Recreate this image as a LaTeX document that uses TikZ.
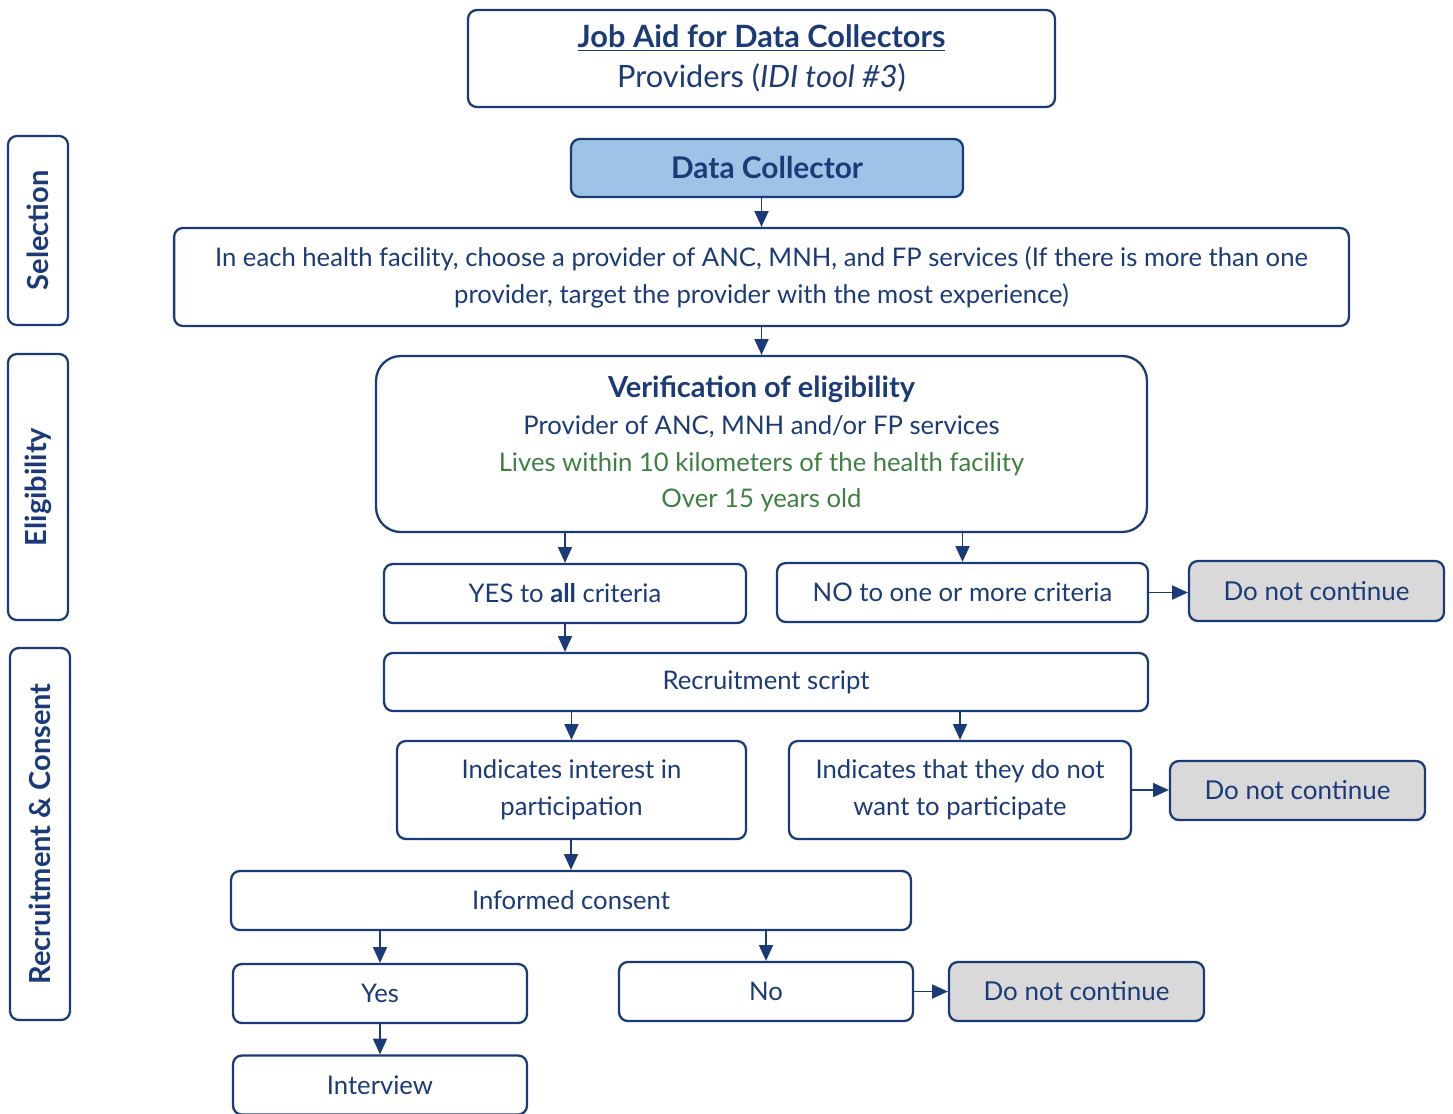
\documentclass[tikz,border=0pt]{standalone}
\usepackage{fontspec}
\setmainfont{Lato}
\usetikzlibrary{arrows.meta}
\definecolor{navy}{HTML}{1B3A78}
\definecolor{leafgreen}{HTML}{3C8042}
\definecolor{paleblue}{HTML}{9DC3E6}
\definecolor{palegray}{HTML}{D9D9D9}
\tikzset{
  box/.style={draw=navy, line width=1.3pt, rounded corners=5pt, text=navy, align=center,
    inner sep=0pt, font=\fontsize{14.6}{21}\selectfont},
  stopbox/.style={box, fill=palegray, font=\fontsize{14.8}{18}\selectfont},
  side/.style={box, rotate=90, minimum height=1.2cm, font=\fontsize{16.5}{18}\selectfont\bfseries},
  arr/.style={draw=navy, line width=0.9pt, -{Triangle[length=9pt,width=8pt]}},
}
\begin{document}
\begin{tikzpicture}[x=0.02cm, y=-0.02cm]
\useasboundingbox (0,0) rectangle (1453,1113);
% header
\node[box, minimum width=11.74cm, minimum height=1.94cm, font=\fontsize{17.5}{23}\selectfont] (title) at (761.5,58.5)
  {\textbf{\underline{Job Aid for Data Collectors}}\\ Providers (\textit{IDI tool \#3})};
\node[box, fill=paleblue, minimum width=7.84cm, minimum height=1.16cm, font=\fontsize{17}{18}\selectfont\bfseries] (dc) at (767,168) {Data Collector};
% phases
\node[side, minimum width=3.78cm] (sel) at (38,230.5) {Selection};
\node[side, minimum width=5.32cm] (elig) at (38,487) {Eligibility};
\node[side, minimum width=7.44cm] (recr) at (40,834) {Recruitment \& Consent};
% selection / eligibility
\node[box, minimum width=23.5cm, minimum height=1.96cm] (facility) at (761.5,277)
  {In each health facility, choose a provider of ANC, MNH, and FP services (If there is more than one\\ provider, target the provider with the most experience)};
\node[box, rounded corners=14pt, minimum width=15.42cm, minimum height=3.52cm] (verif) at (761.5,444)
  {{\fontsize{16.5}{21}\selectfont\bfseries Verification of eligibility}\\ Provider of ANC, MNH and/or FP services\\
   \textcolor{leafgreen}{Lives within 10 kilometers of the health facility}\\ \textcolor{leafgreen}{Over 15 years old}};
\node[box, minimum width=7.24cm, minimum height=1.18cm] (yes) at (565,593.5) {YES to \textbf{all} criteria};
\node[box, minimum width=7.42cm, minimum height=1.18cm] (no) at (962.5,592.5) {NO to one or more criteria};
\node[stopbox, minimum width=5.1cm, minimum height=1.2cm] (stop1) at (1316.5,591) {Do not continue};
% recruitment
\node[box, minimum width=15.28cm, minimum height=1.16cm] (script) at (766,682) {Recruitment script};
\node[box, minimum width=6.98cm, minimum height=1.96cm] (interest) at (571.5,790) {Indicates interest in\\ participation};
\node[box, minimum width=6.84cm, minimum height=1.96cm] (refuse) at (960,790) {Indicates that they do not\\ want to participate};
\node[stopbox, minimum width=5.1cm, minimum height=1.18cm] (stop2) at (1297.5,790.5) {Do not continue};
% consent
\node[box, minimum width=13.6cm, minimum height=1.18cm] (consent) at (571,900.5) {Informed consent};
\node[box, minimum width=5.88cm, minimum height=1.18cm] (agree) at (380,993.5) {Yes};
\node[box, minimum width=5.88cm, minimum height=1.18cm] (decline) at (766,991.5) {No};
\node[stopbox, minimum width=5.1cm, minimum height=1.18cm] (stop3) at (1076.5,991.5) {Do not continue};
\node[box, minimum width=5.88cm, minimum height=1.18cm] (interview) at (380,1085) {Interview};
% connectors
\foreach \a/\b in {dc/facility, facility/verif, verif/yes, verif/no, script/interest,
                   script/refuse, interest/consent, consent/agree, consent/decline, agree/interview}
  \draw[arr] (\a.south -| \b.north) -- (\b.north);
\draw[arr] (yes.south) -- (yes.south |- script.north);
\foreach \a/\b in {no/stop1, refuse/stop2, decline/stop3}
  \draw[arr] (\a.east) -- (\a.east -| \b.west);
\end{tikzpicture}
\end{document}
